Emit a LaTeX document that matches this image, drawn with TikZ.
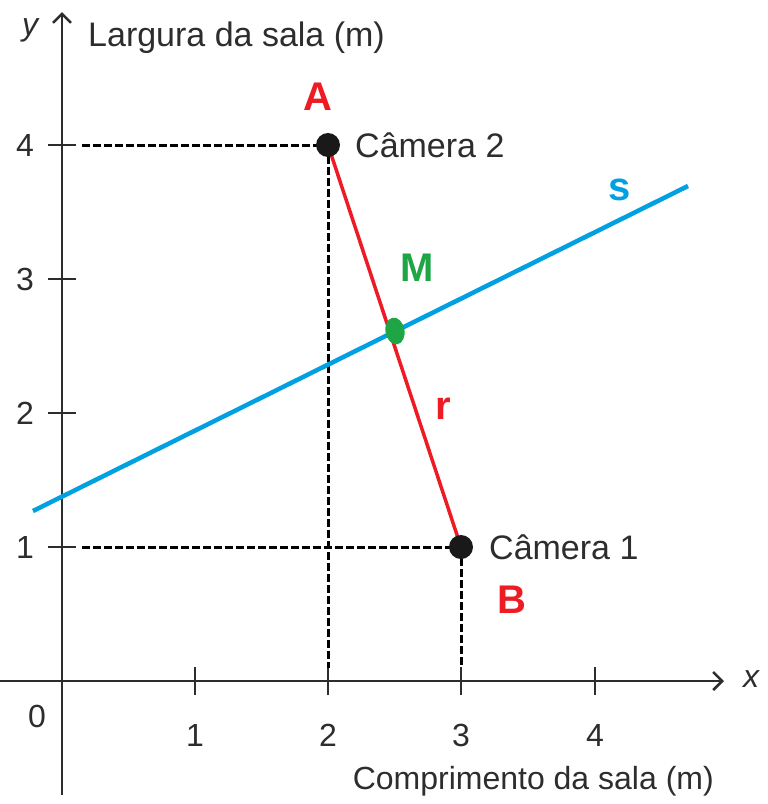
\documentclass[tikz,border=0pt]{standalone}
\usepackage{fontspec}
\setmainfont{Liberation Sans}
\usetikzlibrary{arrows.meta,shapes.geometric}
\definecolor{rred}{RGB}{237,28,36}
\definecolor{sblue}{RGB}{0,160,227}
\definecolor{mgreen}{RGB}{30,165,70}
\definecolor{axgray}{RGB}{45,45,45}
\begin{document}
\begin{tikzpicture}[x=1pt,y=-1pt,
  axis/.style={draw=axgray,line width=2.5pt},
  tick/.style={draw=axgray,line width=2.5pt},
  guide/.style={draw=black,line width=3pt,dash pattern=on 7.5pt off 3.5pt},
  lbl/.style={inner sep=0pt,font=\fontsize{32}{38}\selectfont,text=axgray},
  wide/.style={font=\fontsize{34}{40}\selectfont},
  big/.style={inner sep=0pt,font=\fontsize{40}{46}\selectfont\bfseries},
  dot/.style={circle,fill=black!90,inner sep=0pt,minimum size=24pt}]
\useasboundingbox (0,0) rectangle (768,804);
% axes
\coordinate (xs) at (0,681);
\coordinate (xe) at (724,681);
\coordinate (ys) at (62,795);
\coordinate (ye) at (62,12);
\draw[axis,-{Straight Barb[length=9pt,width=18pt,line width=2.5pt]}] (xs) -- (xe);
\draw[axis,-{Straight Barb[length=9pt,width=18pt,line width=2.5pt]}] (ys) -- (ye);
% ticks
\foreach \X in {195,328,461,595} \draw[tick] (\X,667) -- (\X,695);
\foreach \Y in {145,279,413,547} \draw[tick] (48,\Y) -- (76,\Y);
% tick labels
\node[lbl] (l4) at (25,145) {4};
\node[lbl] (l3) at (25,279) {3};
\node[lbl] (l2) at (25,413) {2};
\node[lbl] (l1) at (25,547) {1};
\node[lbl] (l0) at (37,716) {0};
\node[lbl] (m1) at (195,735) {1};
\node[lbl] (m2) at (328,735) {2};
\node[lbl] (m3) at (461,735) {3};
\node[lbl] (m4) at (595,735) {4};
\node[lbl,font=\fontsize{32}{38}\selectfont\itshape] (xl) at (751,679) {x};
\node[lbl,font=\fontsize{32}{38}\selectfont\itshape] (yl) at (30,30) {y};
\node[lbl,wide,anchor=base west] (ylab) at (88,46) {Largura da sala (m)};
\node[lbl,anchor=base east] (xlab) at (714,789) {Comprimento da sala (m)};
% points
\coordinate (A) at (328,145);
\coordinate (B) at (461,547);
\coordinate (Ah) at (82,145);
\coordinate (Av) at (328,668);
\coordinate (Bh) at (82,547);
\coordinate (Bv) at (461,668);
\draw[guide] (Ah) -- (A);
\draw[guide] (A) -- (Av);
\draw[guide] (Bh) -- (B);
\draw[guide] (B) -- (Bv);
% line s
\coordinate (s1) at (33,511);
\coordinate (s2) at (688,186);
\draw[sblue,line width=4.5pt] (s1) -- (s2);
% segment r
\draw[rred,line width=3.5pt] (A) -- (B);
\node[dot] (Adot) at (A) {};
\node[dot] (Bdot) at (B) {};
\node[ellipse,fill=mgreen,inner sep=0pt,minimum width=19pt,minimum height=27pt,rotate=10] (M) at (395,331) {};
% labels
\node[big,text=rred] (Alab) at (318,97) {A};
\node[big,text=rred] (Blab) at (512,600) {B};
\node[big,text=mgreen] (Mlab) at (417,268) {M};
\node[big,text=rred] (rlab) at (443,409) {r};
\node[big,text=sblue] (slab) at (620,190) {s};
\node[lbl,wide,anchor=west] (c2) at (355,145) {Câmera 2};
\node[lbl,wide,anchor=west] (c1) at (489,547) {Câmera 1};
\end{tikzpicture}
\end{document}
